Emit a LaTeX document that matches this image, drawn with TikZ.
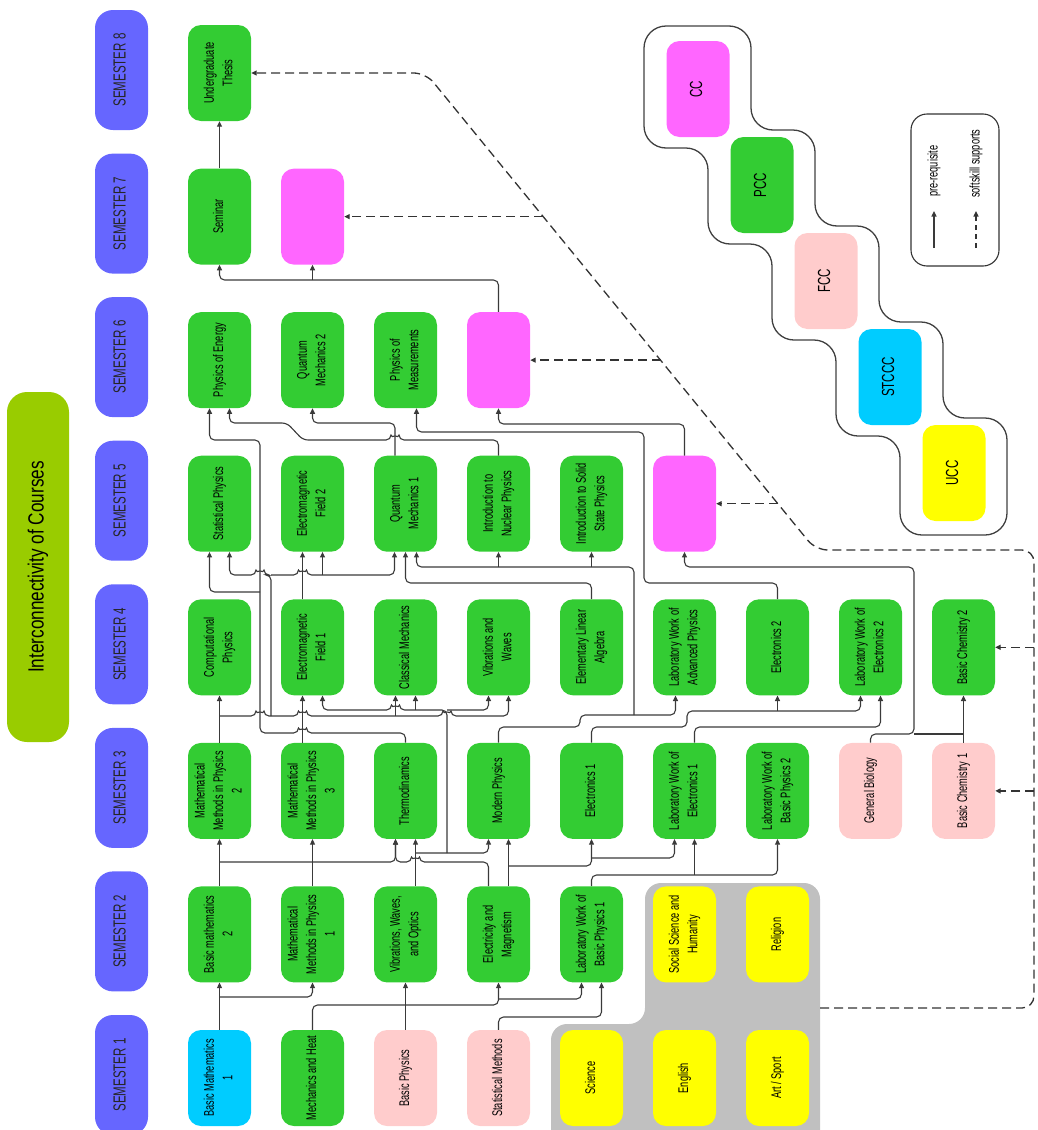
\documentclass[tikz,border=0pt]{standalone}
\usepackage{fontspec}
\setmainfont{Liberation Sans}[FakeStretch=0.66]
\newfontfamily\titlefont{Liberation Sans}[FakeStretch=0.78]
\usepackage{graphicx}
\usetikzlibrary{arrows.meta}
\definecolor{semblue}{HTML}{6666FF}
\definecolor{pcc}{HTML}{33CC33}
\definecolor{stccc}{HTML}{00CCFF}
\definecolor{fcc}{HTML}{FFCCCC}
\definecolor{cc}{HTML}{FF66FF}
\definecolor{ucc}{HTML}{FFFF00}
\definecolor{grayreg}{HTML}{C0C0C0}
\definecolor{titlegreen}{HTML}{99CC00}
\definecolor{linecol}{HTML}{3A3A3A}
\newcommand{\rt}[1]{\rotatebox{90}{\begin{tabular}{@{}c@{}}#1\end{tabular}}}
\newcommand{\cfont}{\fontsize{14}{18.5}\selectfont}
\newcommand{\semfont}{\fontsize{17.5}{20}\selectfont}
\tikzset{
  box/.style={rectangle, rounded corners=13pt, minimum width=63pt, minimum height=96pt, inner sep=0pt, font=\cfont, text=black},
  pccbox/.style={box, fill=pcc},
  stcbox/.style={box, fill=stccc},
  fccbox/.style={box, fill=fcc},
  ccbox/.style={box, fill=cc},
  uccbox/.style={box, fill=ucc},
  sembox/.style={rectangle, rounded corners=18pt, minimum width=53pt, minimum height=120pt, inner sep=0pt, fill=semblue, font=\semfont, text=black!85},
  pre/.style={draw=linecol, line width=1.1pt, rounded corners=5pt, -{Triangle[length=5.5pt,width=5pt]}},
  link/.style={draw=linecol, line width=1.1pt, rounded corners=5pt},
  soft/.style={draw=black!80, line width=1.3pt, dash pattern=on 9pt off 5pt, rounded corners=12pt, -{Triangle[length=5.5pt,width=5pt]}},
  softarr/.style={draw=black!80, line width=1.3pt, dash pattern=on 9pt off 5pt, -{Triangle[length=5.5pt,width=5pt]}},
}
\begin{document}
\begin{tikzpicture}[x=1pt,y=-1pt]
\useasboundingbox (0,0) rectangle (1037,1130);

% title
\node[rectangle, rounded corners=20pt, fill=titlegreen, minimum width=62pt, minimum height=350pt, inner sep=0pt, font={\fontsize{22}{26}\titlefont}] (title) at (38,567) {\rotatebox{90}{Interconnectivity of Courses}};

% semester labels
\node[sembox] (s8) at (121.5,70) {\rt{SEMESTER 8}};
\node[sembox] (s7) at (121.5,213.6) {\rt{SEMESTER 7}};
\node[sembox] (s6) at (121.5,357.1) {\rt{SEMESTER 6}};
\node[sembox] (s5) at (121.5,500.7) {\rt{SEMESTER 5}};
\node[sembox] (s4) at (121.5,644.3) {\rt{SEMESTER 4}};
\node[sembox] (s3) at (121.5,787.9) {\rt{SEMESTER 3}};
\node[sembox] (s2) at (121.5,931.4) {\rt{SEMESTER 2}};
\node[sembox] (s1) at (121.5,1075) {\rt{SEMESTER 1}};

% grey region of general courses
\fill[grayreg, rounded corners=16pt] (645,883) -- (820,883) -- (820,1150) -- (551,1150) -- (551,1024) -- (645,1024) -- cycle;
\coordinate (grayR) at (820,1008);

% legend staircase
\draw[black!75, line width=1.3pt, rounded corners=22pt]
  (644,26) -- (751,26) -- (751,130) -- (815,130) -- (815,226) -- (879,226) -- (879,322) -- (943,322) -- (943,418) -- (1007,418) -- (1007,535)
  -- (900,535) -- (900,436) -- (836,436) -- (836,340) -- (772,340) -- (772,244) -- (708,244) -- (708,148) -- (644,148) -- cycle;
\node[ccbox, font=\semfont] (lcc) at (698,89) {\rt{CC}};
\node[pccbox, font=\semfont] (lpcc) at (762,185) {\rt{PCC}};
\node[fccbox, font=\semfont] (lfcc) at (826,281) {\rt{FCC}};
\node[stcbox, font=\semfont] (lstccc) at (890,377) {\rt{STCCC}};
\node[uccbox, font=\semfont] (lucc) at (954,473) {\rt{UCC}};

% legend box
\node[draw=black!80, line width=1.1pt, rounded corners=16pt, minimum width=88pt, minimum height=152pt, inner sep=0pt] (legend) at (955,190) {};
\coordinate (la1) at (934,248); \coordinate (la2) at (934,211);
\coordinate (lb1) at (976,248); \coordinate (lb2) at (976,211);
\draw[pre] (la1) -- (la2);
\draw[softarr, dash pattern=on 5pt off 4pt] (lb1) -- (lb2);
\node[anchor=south, inner sep=0pt, font=\cfont] (lt1) at (934,197) {\rotatebox{90}{pre-requisite}};
\node[anchor=south, inner sep=0pt, font=\cfont] (lt2) at (976,198) {\rotatebox{90}{softskill supports}};

% semester 8 / 7
\node[pccbox] (thesis) at (219.5,73) {\rt{Undergraduate\\Thesis}};
\node[pccbox] (seminar) at (219.5,216.6) {\rt{Seminar}};
\node[ccbox] (m7) at (312.5,216.6) {};
% semester 6
\node[pccbox] (poe) at (219.5,360.1) {\rt{Physics of Energy}};
\node[pccbox] (qm2) at (312.5,360.1) {\rt{Quantum\\Mechanics 2}};
\node[pccbox] (pom) at (405.5,360.1) {\rt{Physics of\\Measurements}};
\node[ccbox] (m6) at (498.5,360.1) {};
% semester 5
\node[pccbox] (sp) at (219.5,503.7) {\rt{Statistical Physics}};
\node[pccbox] (emf2) at (312.5,503.7) {\rt{Electromagnetic\\Field 2}};
\node[pccbox] (qm1) at (405.5,503.7) {\rt{Quantum\\Mechanics 1}};
\node[pccbox] (inp) at (498.5,503.7) {\rt{Introduction to\\Nuclear Physics}};
\node[pccbox] (iss) at (591.5,503.7) {\rt{Introduction to Solid\\State Physics}};
\node[ccbox] (m5) at (684.5,503.7) {};
% semester 4
\node[pccbox] (comp) at (219.5,647.3) {\rt{Computational\\Physics}};
\node[pccbox] (emf1) at (312.5,647.3) {\rt{Electromagnetic\\Field 1}};
\node[pccbox] (cm) at (405.5,647.3) {\rt{Classical Mechanics}};
\node[pccbox] (vw) at (498.5,647.3) {\rt{Vibrations and\\Waves}};
\node[pccbox] (ela) at (591.5,647.3) {\rt{Elementary Linear\\Algebra}};
\node[pccbox] (lwap) at (684.5,647.3) {\rt{Laboratory Work of\\Advanced Physics}};
\node[pccbox] (el2) at (777.5,647.3) {\rt{Electronics 2}};
\node[pccbox] (lwe2) at (870.5,647.3) {\rt{Laboratory Work of\\Electronics 2}};
\node[pccbox] (bc2) at (963.5,647.3) {\rt{Basic Chemistry 2}};
% semester 3
\node[pccbox] (mmp2) at (219.5,790.9) {\rt{Mathematical\\Methods in Physics\\2}};
\node[pccbox] (mmp3) at (312.5,790.9) {\rt{Mathematical\\Methods in Physics\\3}};
\node[pccbox] (thermo) at (405.5,790.9) {\rt{Thermodinamics}};
\node[pccbox] (mp) at (498.5,790.9) {\rt{Modern Physics}};
\node[pccbox] (el1) at (591.5,790.9) {\rt{Electronics 1}};
\node[pccbox] (lwe1) at (684.5,790.9) {\rt{Laboratory Work of\\Electronics 1}};
\node[pccbox] (lwbp2) at (777.5,790.9) {\rt{Laboratory Work of\\Basic Physics 2}};
\node[fccbox] (gb) at (870.5,790.9) {\rt{General Biology}};
\node[fccbox] (bc1) at (963.5,790.9) {\rt{Basic Chemistry 1}};
% semester 2
\node[pccbox] (bm2) at (219.5,934.4) {\rt{Basic mathematics\\2}};
\node[pccbox] (mmp1) at (312.5,934.4) {\rt{Mathematical\\Methods in Physics\\1}};
\node[pccbox] (vwo) at (405.5,934.4) {\rt{Vibrations, Waves,\\and Optics}};
\node[pccbox] (em) at (498.5,934.4) {\rt{Electricity and\\Magnetism}};
\node[pccbox] (lwbp1) at (591.5,934.4) {\rt{Laboratory Work of\\Basic Physics 1}};
\node[uccbox] (ssh) at (684.5,934.4) {\rt{Social Science and\\Humanity}};
\node[uccbox] (rel) at (777.5,934.4) {\rt{Religion}};
% semester 1
\node[stcbox] (bm1) at (219.5,1078) {\rt{Basic Mathematics\\1}};
\node[pccbox] (mh) at (312.5,1078) {\rt{Mechanics and Heat}};
\node[fccbox] (bp) at (405.5,1078) {\rt{Basic Physics}};
\node[fccbox] (smeth) at (498.5,1078) {\rt{Statistical Methods}};
\node[uccbox] (sci) at (591.5,1078) {\rt{Science}};
\node[uccbox] (eng) at (684.5,1078) {\rt{English}};
\node[uccbox] (art) at (777.5,1078) {\rt{Art / Sport}};

% ---------- S1 -> S2
\draw[pre] (bm1.north) -- (bm2.south);
\coordinate (j1) at (219.5,997);
\draw[pre] (j1) -- (312.5,997) -- (mmp1.south);
\draw[pre] (mh.north) -- (312.5,1005) -- (498.5,1005) -- (em.south);
\coordinate (j2) at (498.5,999);
\draw[pre] (j2) -- (581.5,999) -- ([xshift=-10pt]lwbp1.south);
\draw[pre] (bp.north) -- (vwo.south);
\draw[pre] (smeth.north) -- (498.5,1017) -- (601.5,1017) -- ([xshift=10pt]lwbp1.south);

% ---------- S2 -> S3
\draw[pre] (bm2.north) -- (mmp2.south);
\coordinate (j3) at (219.5,862);
\draw[pre] (j3) -- (395.5,862) -- ([xshift=-10pt]thermo.south);
\draw[pre] ([xshift=-10pt]em.north) -- (488.5,862) -- (419.5,862) arc[start angle=0,end angle=180,radius=4pt] -- (395.5,862) -- ([xshift=-10pt]thermo.south);
\draw[pre] (mmp1.north) -- (mmp3.south);
\draw[pre] ([xshift=10pt]vwo.north) -- ([xshift=10pt]thermo.south);
\coordinate (j4) at (415.5,853);
\draw[pre] (j4) -- (488.5,853) -- ([xshift=-10pt]mp.south);
\draw[pre] ([xshift=10pt]em.north) -- ([xshift=10pt]mp.south);
\coordinate (j5) at (508.5,866);
\draw[pre] (j5) -- (591.5,866) -- (el1.south);
\coordinate (j6) at (591.5,858);
\draw[pre] (j6) -- (674.5,858) -- ([xshift=-10pt]lwe1.south);
\draw[pre] (lwbp1.north) -- (591.5,875) -- (777.5,875) -- (lwbp2.south);
\coordinate (j7) at (694.5,875);
\draw[pre] (j7) -- ([xshift=10pt]lwe1.south);

% ---------- S3 -> S4
\draw[pre] (mmp2.north) -- (comp.south);
\coordinate (j8) at (219.5,716);
\draw[pre] (j8) -- (256,716) arc[start angle=180,end angle=0,radius=4pt] -- (298.5,716) arc[start angle=180,end angle=0,radius=4pt] -- (443,716) arc[start angle=180,end angle=0,radius=4pt] -- (508.5,716) -- ([xshift=10pt]vw.south);
\coordinate (j9) at (395.5,716);
\draw[pre] (j9) -- ([xshift=-10pt]cm.south);
\draw[pre] ([xshift=-10pt]mmp3.north) -- ([xshift=-10pt]emf1.south);
\draw[pre] (thermo.north) -- (405.5,733) -- (306.5,733) arc[start angle=0,end angle=180,radius=4pt] -- (260,733) -- (260,440) -- (209.5,440) -- ([xshift=-10pt]poe.south);
\coordinate (j10) at (260,592);
\draw[pre] (j10) -- (209.5,592) -- ([xshift=-10pt]sp.south);
\coordinate (j11) at (447,853);
\draw[pre] (j11) -- (447,710) -- (399.5,710) arc[start angle=0,end angle=180,radius=4pt] -- (322.5,710) -- ([xshift=10pt]emf1.south);
\coordinate (j12) at (415.5,710);
\draw[pre] (j12) -- ([xshift=10pt]cm.south);
\coordinate (j13) at (447,710);
\draw[pre] (j13) -- (488.5,710) -- ([xshift=-10pt]vw.south);
\draw[pre] (mp.north) -- (498.5,727) -- (580,727) -- (580,715) -- (675.5,715) -- ([xshift=-9pt]lwap.south);
\coordinate (j14) at (634,715);
\draw[pre] (j14) -- (634,567) -- (416.5,567) -- ([xshift=11pt]qm1.south);
\coordinate (j15) at (498.5,567);
\draw[pre] (j15) -- (inp.south);
\coordinate (j16) at (591.5,567);
\draw[pre] (j16) -- (iss.south);
\draw[pre] (el1.north) -- (591.5,727) -- (687,727) -- (687,711) -- (860.5,711) -- ([xshift=-10pt]lwe2.south);
\coordinate (j17) at (777.5,711);
\draw[pre] (j17) -- (el2.south);
\draw[pre] ([xshift=10pt]lwe1.north) -- (694.5,727) -- (880.5,727) -- ([xshift=10pt]lwe2.south);
\draw[pre] (gb.north) -- (870.5,734) -- (914,734) -- (914,567) -- (684.5,567) -- (m5.south);
\coordinate (j18) at (963.5,734);
\draw[link] (j18) -- (914,734);
\draw[pre] (bc1.north) -- (bc2.south);

% ---------- S4 -> S5
\coordinate (j20) at (271,716);
\draw[pre] (j20) -- (271,575) -- (264,575) arc[start angle=0,end angle=180,radius=4pt] -- (229.5,575) -- ([xshift=10pt]sp.south);
\coordinate (j21) at (271,575);
\draw[pre] (j21) -- (298.5,575) arc[start angle=180,end angle=0,radius=4pt] -- (394.5,575) -- ([xshift=-11pt]qm1.south);
\coordinate (j22) at (322.5,575);
\draw[pre] (j22) -- ([xshift=10pt]emf2.south);
\draw[pre] ([xshift=-10pt]emf1.north) -- ([xshift=-10pt]emf2.south);
\draw[pre] (ela.north) -- (591.5,583) -- (405.5,583) -- (qm1.south);
\draw[pre] (el2.north) -- (777.5,583) -- (644,583) -- (644,432) -- (416.5,432) -- ([xshift=11pt]pom.south);

% ---------- S5 -> S6
\draw[pre] ([xshift=-10.5pt]qm1.north) -- (395,423) -- (312.5,423) -- (qm2.south);
\draw[pre] (inp.north) -- (498.5,440) -- (399,440) arc[start angle=0,end angle=180,radius=4pt] -- (303,440) -- (287,423) -- (229.5,423) -- ([xshift=10pt]poe.south);
\draw[pre] (m5.north) -- (684.5,424) -- (498.5,424) -- (m6.south);

% ---------- S6 -> S8
\draw[pre] (m6.north) -- (498.5,280) -- (219.5,280) -- (seminar.south);
\coordinate (j23) at (312.5,280);
\draw[pre] (j23) -- (m7.south);
\draw[pre] (seminar.north) -- (thesis.south);

% ---------- softskill supports (dashed)
\draw[soft] (grayR) -- (1034,1008) -- (1034,550) -- (815.7,550) -- (425.8,73) -- (thesis.east);
\coordinate (d1) at (1034,790.9);
\coordinate (d2) at (1034,647.3);
\coordinate (d3) at (777.9,503.7);
\coordinate (d4) at (660.5,360.1);
\coordinate (d5) at (543.2,216.6);
\draw[softarr] (d1) -- (bc1.east);
\draw[softarr] (d2) -- (bc2.east);
\draw[softarr] (d3) -- (m5.east);
\draw[softarr] (d4) -- (m6.east);
\draw[softarr] (d5) -- (m7.east);
\end{tikzpicture}
\end{document}
